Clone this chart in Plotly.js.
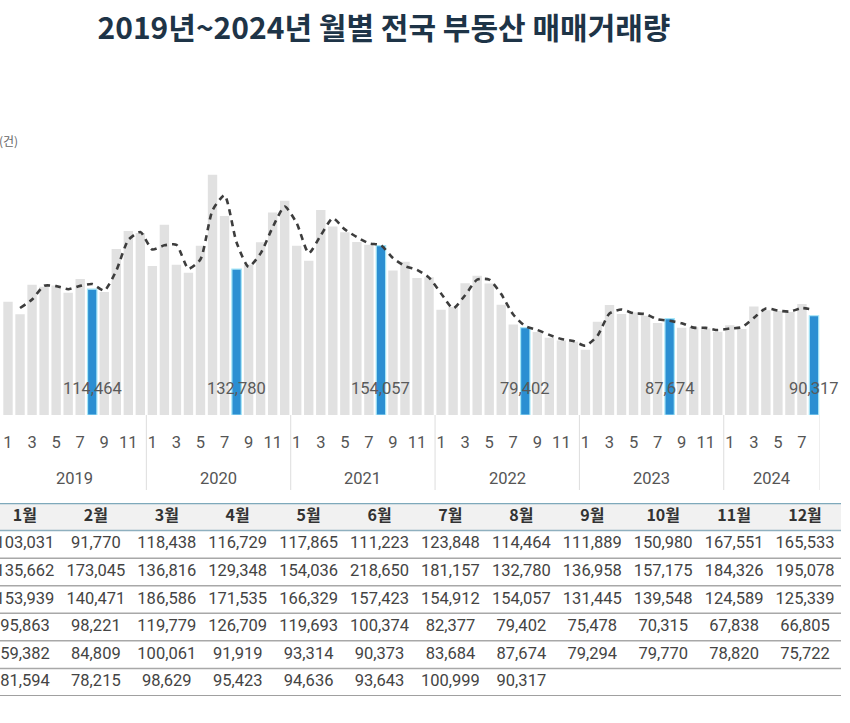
<!DOCTYPE html>
<html>
<head>
<meta charset="utf-8">
<script src="https://cdn.plot.ly/plotly-3.0.1.min.js"></script>
<style>
html, body { margin: 0; padding: 0; background: #ffffff; overflow: hidden; width: 850px; height: 723px; }
#chart { position: absolute; left: -11px; top: 0; width: 861px; height: 723px; }
</style>
</head>
<body>
<div id="chart"></div>
<script>
// ---------------- data ----------------
const titleText = '2019년~2024년 월별 전국 부동산 매매거래량';
const unitLabel = '(건)';
const years = ['2019', '2020', '2021', '2022', '2023', '2024'];
const monthHeaders = ['1월', '2월', '3월', '4월', '5월', '6월', '7월', '8월', '9월', '10월', '11월', '12월'];
const v2019 = [103031, 91770, 118438, 116729, 117865, 111223, 123848, 114464, 111889, 150980, 167551, 165533];
const v2020 = [135662, 173045, 136816, 129348, 154036, 218650, 181157, 132780, 136958, 157175, 184326, 195078];
const v2021 = [153939, 140471, 186586, 171535, 166329, 157423, 154912, 154057, 131445, 139548, 124589, 125339];
const v2022 = [95863, 98221, 119779, 126709, 119693, 100374, 82377, 79402, 75478, 70315, 67838, 66805];
const v2023 = [59382, 84809, 100061, 91919, 93314, 90373, 83684, 87674, 79294, 79770, 78820, 75722];
const v2024 = [81594, 78215, 98629, 95423, 94636, 93643, 100999, 90317];
// dashed trend line (one per month, none for the first month)
const trendLine = [null, 97400, 105100, 117600, 117300, 114500, 117500, 119200, 113200, 131400, 159300, 166500,
  150600, 154400, 154900, 133100, 141700, 186300, 199900, 157000, 134900, 147100, 170800, 189700,
  174500, 147200, 163500, 179100, 168900, 161900, 156200, 154500, 142800, 135500, 132100, 125000,
  110600, 97000, 109000, 123200, 123200, 110000, 91400, 80900, 77400, 72900, 69100, 67300,
  63100, 72100, 92400, 96000, 92600, 91800, 87000, 85700, 83500, 79500, 79300, 77300,
  78700, 79900, 88400, 97000, 95000, 94100, 97300, 95700];
const highlightMonth = 8;

// ---------------- build ----------------
const yearSeries = [v2019, v2020, v2021, v2022, v2023, v2024];
const xs = [], ys = [], monthOf = [], yearStart = [];
yearSeries.forEach((arr, yi) => {
  yearStart.push(xs.length);
  arr.forEach((v, mi) => { xs.push(xs.length); ys.push(v); monthOf.push(mi + 1); });
});
const nBars = xs.length;
const fmt = v => v.toLocaleString('en-US');

const GRAY = '#e1e1e1', BLUE = '#2b8fd2';
const barColors = monthOf.map(m => m === highlightMonth ? BLUE : GRAY);
const barLineColors = monthOf.map(m => m === highlightMonth ? '#a6e6f7' : 'rgba(0,0,0,0)');
const barLineWidths = monthOf.map(m => m === highlightMonth ? 1.2 : 0);

const tickVals = [], tickText = [];
xs.forEach((x, i) => { if (monthOf[i] % 2 === 1) { tickVals.push(x); tickText.push(String(monthOf[i])); } });

const W = 861, H = 723, OFF = 11; // div shifted left so the table's first column is cut like the reference
const px = sx => (sx + OFF) / W;      // screen x -> paper x
const py = sy => (H - sy) / H;        // screen y -> paper y

const FONT = 'Roboto, Noto Sans CJK KR, sans-serif';

const barTrace = {
  type: 'bar', x: xs, y: ys,
  marker: { color: barColors, line: { color: barLineColors, width: barLineWidths } },
  hoverinfo: 'skip', xaxis: 'x', yaxis: 'y'
};
const lineTrace = {
  type: 'scatter', mode: 'lines', x: xs, y: trendLine,
  line: { color: '#3d3d3d', width: 2.6, dash: '6px,5px', shape: 'spline', smoothing: 0.6 },
  connectgaps: false, hoverinfo: 'skip', xaxis: 'x', yaxis: 'y'
};

// table drawn on its own axes: column = month index, row = year index (header row = -1)
const headerTrace = {
  type: 'scatter', mode: 'text', xaxis: 'x2', yaxis: 'y2', cliponaxis: false, hoverinfo: 'skip',
  x: monthHeaders.map((h, mi) => mi), y: monthHeaders.map(() => -1),
  text: monthHeaders.map(h => '<b>' + h + '</b>'), textposition: 'middle center',
  textfont: { family: 'Noto Sans CJK KR, Roboto, sans-serif', size: 16, color: '#333333' }
};
const cx = [], cy = [], ct = [];
yearSeries.forEach((arr, yi) => arr.forEach((v, mi) => { cx.push(mi); cy.push(yi); ct.push(fmt(v)); }));
const cellTrace = {
  type: 'scatter', mode: 'text', xaxis: 'x2', yaxis: 'y2', cliponaxis: false, hoverinfo: 'skip',
  x: cx, y: cy, text: ct, textposition: 'middle center',
  textfont: { family: FONT, size: 16.5, color: '#444444' }
};

const annotations = [];
annotations.push({ text: unitLabel, xref: 'paper', yref: 'paper', x: px(-3), y: py(141), xanchor: 'left', yanchor: 'middle',
  showarrow: false, font: { family: 'Noto Sans CJK KR, sans-serif', size: 12, color: '#666666' } });
xs.forEach((x, i) => {
  if (monthOf[i] === highlightMonth) {
    annotations.push({ text: fmt(ys[i]), xref: 'x', yref: 'y', x: x, y: 0, yanchor: 'bottom', yshift: 15,
      showarrow: false, font: { family: FONT, size: 16.5, color: '#5a5a5a' } });
  }
});
years.forEach((yr, yi) => {
  const s = yearStart[yi], e = s + yearSeries[yi].length - 1;
  annotations.push({ text: yr, xref: 'x', yref: 'paper', x: (s + e) / 2, y: py(478), yanchor: 'middle',
    showarrow: false, font: { family: FONT, size: 16.5, color: '#555555' } });
});

const shapes = [];
years.forEach((yr, yi) => {
  const e = yearStart[yi] + yearSeries[yi].length - 0.5;
  shapes.push({ type: 'line', xref: 'x', yref: 'paper', x0: e, x1: e, y0: py(490), y1: py(415),
    line: { color: '#dddddd', width: 1 } });
});
const ruleX0 = 0, ruleX1 = px(841);
shapes.push({ type: 'rect', layer: 'below', xref: 'paper', yref: 'y2', x0: ruleX0, x1: ruleX1, y0: -1.5, y1: -0.5,
  fillcolor: '#f1f1f1', line: { width: 0 } });
shapes.push({ type: 'line', xref: 'paper', yref: 'y2', x0: ruleX0, x1: ruleX1, y0: -1.5, y1: -1.5, line: { color: '#7ea9bb', width: 2.5 } });
shapes.push({ type: 'line', xref: 'paper', yref: 'y2', x0: ruleX0, x1: ruleX1, y0: -0.5, y1: -0.5, line: { color: '#8fb0bf', width: 1.5 } });
[0.5, 1.5, 2.5, 3.5, 4.5].forEach(r => {
  shapes.push({ type: 'line', xref: 'paper', yref: 'y2', x0: ruleX0, x1: ruleX1, y0: r, y1: r, line: { color: '#a8a8a8', width: 1.5 } });
});
shapes.push({ type: 'line', xref: 'paper', yref: 'y2', x0: ruleX0, x1: ruleX1, y0: 5.5, y1: 5.5, line: { color: '#a0a0a0', width: 2 } });

const layout = {
  width: W, height: H,
  margin: { l: 0, r: 0, t: 0, b: 0, pad: 0 },
  paper_bgcolor: '#ffffff', plot_bgcolor: 'rgba(0,0,0,0)',
  showlegend: false, hovermode: false,
  bargap: 0.22,
  title: { text: titleText, x: px(384), y: py(28), xref: 'paper', yref: 'paper', xanchor: 'center', yanchor: 'middle',
    font: { family: 'Noto Sans CJK KR, sans-serif', size: 30, weight: 700, color: '#1e3447' } },
  xaxis: {
    domain: [px(2), px(820)], range: [-0.5, nBars - 0.5], anchor: 'y',
    tickmode: 'array', tickvals: tickVals, ticktext: tickText,
    ticks: 'outside', ticklen: 12, tickcolor: 'rgba(0,0,0,0)',
    tickfont: { family: FONT, size: 16.5, color: '#555555' },
    showgrid: false, zeroline: false, showline: false, fixedrange: true
  },
  yaxis: {
    domain: [py(415), py(165)], range: [0, 227500], anchor: 'x',
    showticklabels: false, showgrid: false, zeroline: false, showline: false, ticks: '', fixedrange: true
  },
  xaxis2: { domain: [px(-10.5), px(840.5)], range: [-0.5, 11.5], anchor: 'y2', visible: false, fixedrange: true },
  yaxis2: { domain: [py(696), py(503)], range: [5.5, -1.5], anchor: 'x2', visible: false, fixedrange: true },
  annotations: annotations,
  shapes: shapes
};

Plotly.newPlot('chart', [barTrace, lineTrace, headerTrace, cellTrace], layout, { displayModeBar: false, staticPlot: true });
</script>
</body>
</html>
